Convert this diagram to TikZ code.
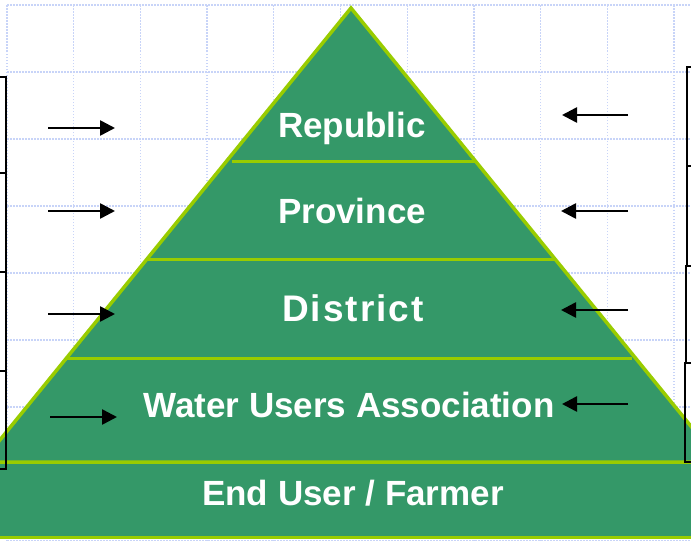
\documentclass[tikz,border=0pt]{standalone}
\usepackage{fontspec}
\setmainfont{Liberation Sans}
\usetikzlibrary{arrows.meta,calc}

\definecolor{pyrgreen}{RGB}{52,152,104}
\definecolor{pyredge}{RGB}{153,204,0}
\definecolor{gridblue}{RGB}{200,212,248}

\begin{document}
\begin{tikzpicture}[
    x=1pt, y=-1pt,
    gridline/.style={gridblue, line width=1.3pt, dash pattern=on 1.5pt off 1.5pt},
    layerline/.style={pyredge, line width=3pt},
    sidebox/.style={draw=black, line width=1.8pt},
    flow/.style={line width=2.6pt, -{Triangle[length=15pt,width=15pt]}},
    levelname/.style={text=white, anchor=base, font=\bfseries\fontsize{35}{40}\selectfont}
  ]

  \useasboundingbox (0,0) rectangle (691,541);
  \clip (0,0) rectangle (691,541);

  % background grid
  \draw[gridline, shift={(7pt,-5pt)}, xstep=66.7pt, ystep=67pt] (0pt,0pt) grid (684pt,-536pt);

  \coordinate (peak) at (351,8);
  \coordinate (footL) at (-18,462);
  \coordinate (footR) at (720,462);

  \draw[pyredge, fill=pyrgreen, line width=3.5pt] (footL) -- (peak) -- (footR) -- cycle;
  \draw[layerline] ($(peak)!0.339!(footL)+(6,0)$) -- ($(peak)!0.339!(footR)$);
  \draw[layerline] ($(peak)!0.553!(footL)$) -- ($(peak)!0.553!(footR)$);
  \draw[layerline] ($(peak)!0.771!(footL)$) -- ($(peak)!0.771!(footR)+(-4,0)$);

  % base band
  \draw[layerline, fill=pyrgreen] (-5,462) rectangle (696,537);

  % boxes cut by the edges
  \draw[sidebox] (-40,77) rectangle (6,173);
  \draw[sidebox] (-40,173) rectangle (6,272);
  \draw[sidebox] (-40,272) rectangle (6,371);
  \draw[sidebox] (-40,371) rectangle (6,469);
  \draw[sidebox] (687,67) rectangle (740,166);
  \draw[sidebox] (687,166) rectangle (740,266);
  \draw[sidebox] (686,266) rectangle (740,363);
  \draw[sidebox] (685,363) rectangle (740,462);

  \coordinate (inL1) at (48,128);  \coordinate (atL1) at (115,128);
  \coordinate (inL2) at (48,211);  \coordinate (atL2) at (115,211);
  \coordinate (inL3) at (48,314);  \coordinate (atL3) at (115,314);
  \coordinate (inL4) at (50,417);  \coordinate (atL4) at (117,417);
  \coordinate (inR1) at (628,115); \coordinate (atR1) at (562,115);
  \coordinate (inR2) at (628,211); \coordinate (atR2) at (561,211);
  \coordinate (inR3) at (628,310); \coordinate (atR3) at (561,310);
  \coordinate (inR4) at (628,404); \coordinate (atR4) at (562,404);

  \draw[flow] (inL1) -- (atL1);
  \draw[flow] (inL2) -- (atL2);
  \draw[flow] (inL3) -- (atL3);
  \draw[flow] (inL4) -- (atL4);
  \draw[flow] (inR1) -- (atR1);
  \draw[flow] (inR2) -- (atR2);
  \draw[flow] (inR3) -- (atR3);
  \draw[flow] (inR4) -- (atR4);

  \node[levelname] (republic) at (352,137) {Republic};
  \node[levelname] (province) at (352,223) {Province};
  \node[levelname, font=\bfseries\fontsize{37}{42}\selectfont\addfontfeature{LetterSpace=5.5}] (district) at (353,321) {District};
  \node[levelname] (wua) at (349,417) {Water Users Association};
  \node[levelname] (enduser) at (353,505) {End User / Farmer};

\end{tikzpicture}
\end{document}
